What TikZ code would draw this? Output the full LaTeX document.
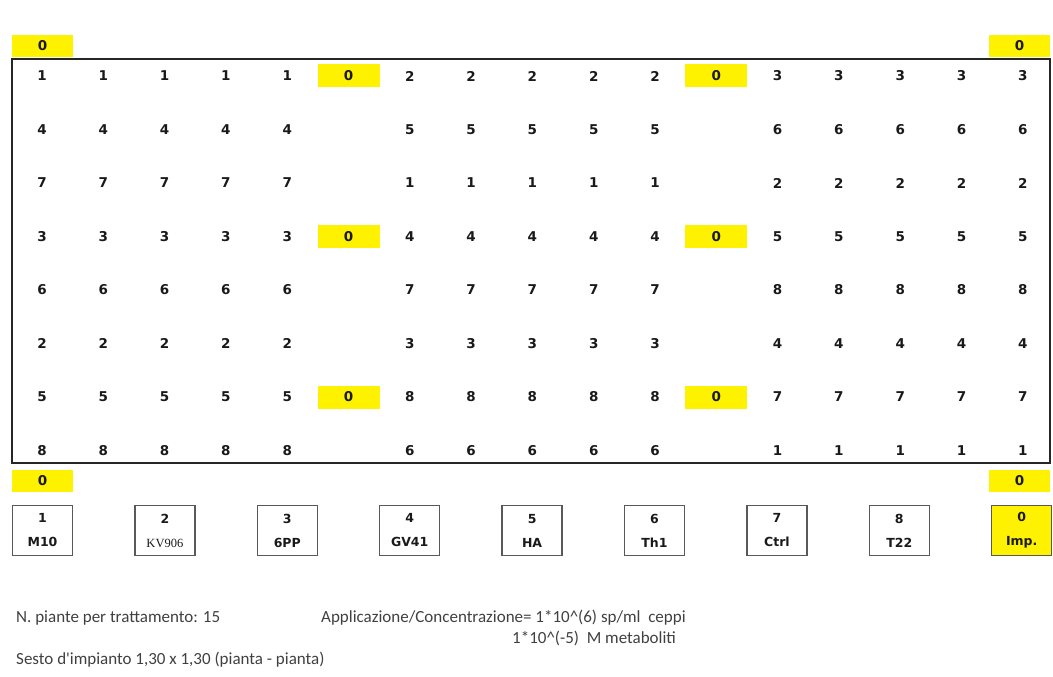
\documentclass[tikz,border=0pt]{standalone}
\usepackage{fontspec}
\setmainfont{DejaVu Sans}
\newfontfamily\notefont{Carlito}
\newfontfamily\kvfont{Liberation Serif}
\usetikzlibrary{positioning}

\begin{document}
\begin{tikzpicture}[
    x=1pt, y=-1pt,
    every node/.style={font=\fontsize{13.5}{13.5}\bfseries\selectfont, inner sep=0pt},
    cell/.style={text=black!90},
    zerobox/.style={fill=yellow, text=black!90, minimum width=62pt, minimum height=23pt},
    legendbox/.style={draw=black!65, line width=1.4pt, minimum width=60pt, minimum height=50pt,
        align=center, text=black!90, font=\fontsize{12.5}{24}\bfseries\selectfont},
    note/.style={font=\notefont\fontsize{17}{19}\selectfont, text=black!75, anchor=west}
]
    \useasboundingbox (0,0) rectangle (1053,677);

    % field border
    \draw[line width=2pt, black!85] (12,59) rectangle (1050,463);

    % border rows of guard plants
    \node[zerobox, minimum width=61pt, minimum height=22pt] (z-top-l) at (42.5,46) {0};
    \node[zerobox, minimum width=61pt, minimum height=22pt] (z-top-r) at (1019.5,46) {0};
    \node[zerobox, minimum width=61pt, minimum height=22pt] (z-bot-l) at (42.5,481) {0};
    \node[zerobox, minimum width=61pt, minimum height=22pt] (z-bot-r) at (1019.5,481) {0};

    % plots: row / block A / block B / block C
    \foreach \r/\a/\b/\c in {1/1/2/3, 2/4/5/6, 3/7/1/2, 4/3/4/5,
                             5/6/7/8, 6/2/3/4, 7/5/8/7, 8/8/6/1} {
        \pgfmathsetmacro{\ry}{76+53.5*(\r-1)}
        \foreach \k in {0,...,4} {
            \node[cell] (a-\r-\k) at ({42+61.3*\k},\ry) {\a};
            \node[cell] (b-\r-\k) at ({42+61.3*(\k+6)},\ry) {\b};
            \node[cell] (c-\r-\k) at ({42+61.3*(\k+12)},\ry) {\c};
        }
    }

    % guard plants between blocks
    \foreach \r in {1,4,7} {
        \pgfmathsetmacro{\ry}{76+53.5*(\r-1)}
        \node[zerobox] (z-\r-1) at ({42+61.3*5},\ry) {0};
        \node[zerobox] (z-\r-2) at ({42+61.3*11},\ry) {0};
    }

    % legend
    \foreach \n/\lbl [count=\i from 0] in {1/M10, 2/{\kvfont\mdseries KV906}, 3/6PP, 4/GV41,
                                          5/HA, 6/Th1, 7/Ctrl, 8/T22} {
        \node[legendbox] (leg-\n) at ({42.5+122.4*\i},530.5) {\n\\\lbl};
    }
    \node[legendbox, fill=yellow] (leg-0) at ({42.5+122.4*8},530.5) {0\\Imp.};

    % notes
    \node[note] (ntreat) at (16,618) {N. piante per trattamento: 15};
    \node[note] (appl) at (321,618) {Applicazione/Concentrazione= 1*10\textasciicircum(6) sp/ml\ \ ceppi};
    \node[note] (metab) at (512,638) {1*10\textasciicircum(-5)\ \ M metaboliti};
    \node[note] (sesto) at (16,660) {Sesto d'impianto 1,30 x 1,30 (pianta - pianta)};
\end{tikzpicture}
\end{document}
